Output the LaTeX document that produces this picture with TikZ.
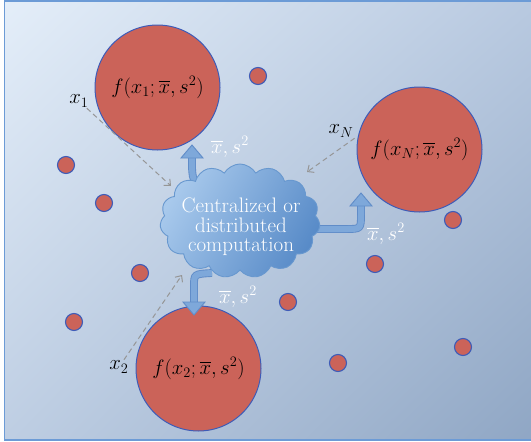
\documentclass[tikz,border=0pt]{standalone}
\usepackage{amsmath,amssymb}
\usepackage{tikz}
\usepackage{xcolor}
\usetikzlibrary{arrows.meta,shapes.symbols,shadings}
\definecolor{bgtl}{RGB}{228,238,249}
\definecolor{bgtr}{RGB}{184,201,224}
\definecolor{bgbl}{RGB}{190,206,227}
\definecolor{bgbr}{RGB}{143,166,196}
\definecolor{framecol}{RGB}{108,155,214}
\definecolor{distfill}{RGB}{203,99,89}
\definecolor{distedge}{RGB}{62,92,184}
\definecolor{cloudlight}{RGB}{168,201,236}
\definecolor{clouddark}{RGB}{88,139,200}
\definecolor{cloudedge}{RGB}{104,152,207}
\definecolor{arrowfill}{RGB}{126,168,218}
\definecolor{arrowedge}{RGB}{96,140,200}
\definecolor{msggray}{RGB}{150,150,150}

\tikzset{
  bigdist/.style={circle, draw=distedge, fill=distfill, line width=1pt,
    minimum size=125pt, inner sep=0pt, font=\fontsize{20}{22}\selectfont},
  smalldot/.style={circle, draw=distedge, fill=distfill, line width=1.1pt,
    minimum size=17pt, inner sep=0pt},
  varlabel/.style={inner sep=1pt, font=\fontsize{21}{23}\selectfont},
  statlabel/.style={text=white, inner sep=1pt, font=\fontsize{20.74}{22}\selectfont},
  sendarrow/.style={msggray, line width=1pt, dash pattern=on 5pt off 3.5pt,
    -{Straight Barb[length=5pt,width=9pt]}},
  shaft/.style={draw=arrowedge, line width=0.9pt, double=arrowfill,
    double distance=6pt},
  head/.style={fill=arrowfill, draw=arrowedge, line width=0.9pt, line join=miter},
  compcloud/.style={cloud, cloud puffs=15, cloud puff arc=120, aspect=1.45,
    minimum width=160pt, minimum height=114pt, inner sep=0pt,
    draw=cloudedge, line width=0.9pt, left color=cloudlight,
    right color=clouddark, shading angle=60}
}

\begin{document}
\begin{tikzpicture}[x=1pt, y=-1pt]
    \useasboundingbox (0,0) rectangle (531,442);
    % Background and frame
    \begin{scope}
      \clip (0,0) rectangle (531,442);
      \shade[upper left=bgtl, upper right=bgtr, lower left=bgbl, lower right=bgbr]
        (4.5,1) rectangle (535,440);
      \draw[framecol, line width=1.2pt] (4.5,1) rectangle (535,440);
    \end{scope}

    % Small distributions
    \foreach \px/\py [count=\i] in {258/76, 66/165, 104/203, 140/273, 74/322,
        288/302, 375/264, 453/220, 338/363, 463/347} {
        \node[smalldot] (dot\i) at (\px,\py) {};
    }

    % Large distributions
    \node[bigdist] (f1) at (157.5,87.5) {$f(x_1;\overline{x},s^2)$};
    \node[bigdist] (fN) at (419.5,149.5) {$f(x_N;\overline{x},s^2)$};
    \node[bigdist] (f2) at (198.5,368.5) {$f(x_2;\overline{x},s^2)$};

    % Computation cloud (position only)
    \coordinate (comp) at (240,221);

    % Broadcast of the statistics
    \coordinate (up0) at (210,186);
    \coordinate (rt0) at (316,229);
    \coordinate (dn0) at (212,273);
    \draw[shaft] (up0) .. controls (193,182) .. (192,168) -- (192,158);
    \draw[head] (181,158) -- (192,145) -- (203,158) -- cycle;
    \draw[shaft] (rt0) -- (346,229) .. controls (361,229) .. (361,214) -- (361,206);
    \draw[head] (350,206) -- (361,193) -- (372,206) -- cycle;
    \draw[shaft] (dn0) .. controls (194,274) .. (194,286) -- (194,302);
    \draw[head] (183,302) -- (194,315) -- (205,302) -- cycle;

    % Cloud drawn over the shafts
    \node[compcloud] (cloud) at (comp) {};
    \node[text=white, align=center, font=\fontsize{21}{19.5}\selectfont]
        (comptext) at (241,227) {Centralized or\\distributed\\computation};

    \node[statlabel] (s1) at (230,147) {$\overline{x},s^2$};
    \node[statlabel] (sN) at (386,234) {$\overline{x},s^2$};
    \node[statlabel] (s2) at (238,297) {$\overline{x},s^2$};

    % Local data sent to the computation
    \node[varlabel] (x1) at (79,101) {$x_1$};
    \node[varlabel] (xN) at (341,131) {$x_N$};
    \node[varlabel] (x2) at (119,367) {$x_2$};
    \coordinate (in1) at (171,186);
    \coordinate (inN) at (307,172);
    \coordinate (in2) at (182,275);
    \draw[sendarrow] (x1) -- (in1);
    \draw[sendarrow] (xN.south east) -- (inN);
    \draw[sendarrow] (x2) -- (in2);
\end{tikzpicture}
\end{document}
